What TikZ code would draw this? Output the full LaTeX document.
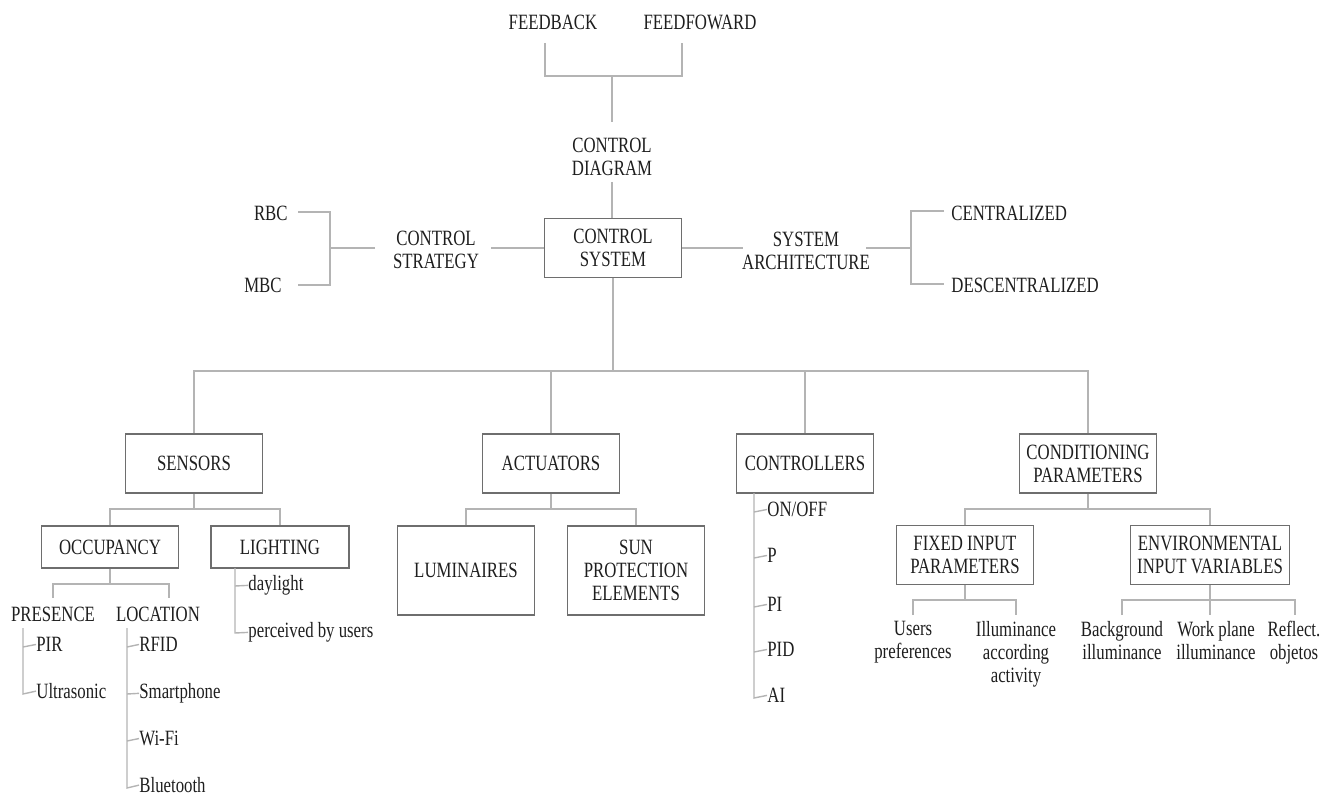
\documentclass[tikz,border=0pt]{standalone}
\usepackage{fontspec}
\setmainfont{Liberation Serif}[FakeStretch=0.77]
\definecolor{txt}{HTML}{1E1E1E}
\definecolor{lnc}{HTML}{B4B4B4}
\definecolor{boxc}{HTML}{6E6E6E}
\begin{document}
\begin{tikzpicture}[x=0.5pt,y=-0.5pt,
  every node/.style={font=\fontsize{10.9}{11.5}\selectfont, text=txt, inner sep=0pt},
  ln/.style={draw=lnc, line width=0.7pt},
  bx/.style={draw=boxc, line width=0.9pt, align=center, minimum width=68.5pt, minimum height=29.5pt},
  lbl/.style={align=center},
  item/.style={anchor=mid west}]
\useasboundingbox (0,0) rectangle (1322,796);

% top
\node[lbl] (fb) at (553,22) {FEEDBACK};
\node[lbl] (ff) at (700,22) {FEEDFOWARD};
\node[lbl] (diag) at (612,157) {CONTROL\\DIAGRAM};
\node[bx] (csys) at (613,248) {CONTROL\\SYSTEM};
\coordinate (fbl) at (545,43);
\coordinate (ffl) at (682,43);
\coordinate (fbj) at (612,76);
\coordinate (diagt) at (612,122);
\coordinate (diagb) at (612,182);
\draw[ln] (fbl) -- (545,76) -- (682,76) -- (ffl);
\draw[ln] (fbj) -- (diagt);
\draw[ln] (diagb) -- (diagb |- csys.north);

% left
\node[lbl] (strat) at (436,250) {CONTROL\\STRATEGY};
\node[anchor=east] (rbc) at (288,213) {RBC};
\node[anchor=east] (mbc) at (282,285) {MBC};
\draw[ln] (csys.west) -- (491,248);
\draw[ln] (375,248) -- (330,248);
\draw[ln] (298,212) -- (330,212) -- (330,285) -- (298,285);

% right
\node[lbl] (arch) at (806,251) {SYSTEM\\ARCHITECTURE};
\node[anchor=west] (cent) at (951,213) {CENTRALIZED};
\node[anchor=west] (desc) at (951,285) {DESCENTRALIZED};
\draw[ln] (csys.east) -- (743,248);
\draw[ln] (866,248) -- (911,248);
\draw[ln] (944,211) -- (911,211) -- (911,284) -- (944,284);

% level 1
\node[bx] (sens) at (194,463.5) {SENSORS};
\node[bx] (act) at (551,463.5) {ACTUATORS};
\node[bx] (ctrl) at (805,463.5) {CONTROLLERS};
\node[bx] (cond) at (1088,463.5) {CONDITIONING\\PARAMETERS};
\draw[ln] (csys.south) -- (613,371);
\draw[ln] (sens.north) -- (194,371) -- (1088,371) -- (cond.north);
\draw[ln] (551,371) -- (act.north);
\draw[ln] (805,371) -- (ctrl.north);

% sensors subtree
\node[bx, minimum height=21pt] (occ) at (110,547) {OCCUPANCY};
\node[bx, minimum height=21pt, minimum width=69pt] (light) at (280,547) {LIGHTING};
\draw[ln] (sens.south) -- (194,509);
\draw[ln] (occ.north) -- (110,509) -- (280,509) -- (light.north);

\node (pres) at (53,614) {PRESENCE};
\node (loc) at (158,614) {LOCATION};
\draw[ln] (occ.south) -- (110,584);
\draw[ln] (53,598) -- (53,584) -- (169,584) -- (169,598);

\node[item] (pir) at (36,647) {PIR};
\node[item] (ultra) at (36,694) {Ultrasonic};
\draw[ln] (23,628) -- (23,694) -- (ultra.west);
\draw[ln] (23,647) -- (pir.west);

\node[item] (rfid) at (139,647) {RFID};
\node[item] (smart) at (139,694) {Smartphone};
\node[item] (wifi) at (139,741) {Wi-Fi};
\node[item] (bt) at (139,788) {Bluetooth};
\draw[ln] (127,628) -- (127,788) -- (bt.west);
\draw[ln] (127,647) -- (rfid.west);
\draw[ln] (127,694) -- (smart.west);
\draw[ln] (127,741) -- (wifi.west);

\node[item] (day) at (248,586) {daylight};
\node[item] (perc) at (248,633) {perceived by users};
\draw[ln] (235,568) -- (235,633) -- (perc.west);
\draw[ln] (235,586) -- (day.west);

% actuators subtree
\node[bx, minimum height=44.5pt] (lum) at (466,570.5) {LUMINAIRES};
\node[bx, minimum height=44.5pt] (sun) at (636,570.5) {SUN\\PROTECTION\\ELEMENTS};
\draw[ln] (act.south) -- (551,509);
\draw[ln] (lum.north) -- (466,509) -- (636,509) -- (sun.north);

% controllers list
\node[item] (onoff) at (767,512) {ON/OFF};
\node[item] (p) at (767,558) {P};
\node[item] (pi) at (767,607) {PI};
\node[item] (pid) at (767,652) {PID};
\node[item] (ai) at (767,698) {AI};
\draw[ln] (754,493) -- (754,698) -- (ai.west);
\draw[ln] (754,512) -- (onoff.west);
\draw[ln] (754,558) -- (p.west);
\draw[ln] (754,607) -- (pi.west);
\draw[ln] (754,652) -- (pid.west);

% conditioning subtree
\node[bx] (fix) at (965,555) {FIXED INPUT\\PARAMETERS};
\node[bx, minimum width=79.5pt] (env) at (1210,555) {ENVIRONMENTAL\\INPUT VARIABLES};
\draw[ln] (cond.south) -- (1088,509);
\draw[ln] (fix.north) -- (965,509) -- (1210,509) -- (env.north);

\node[lbl, anchor=north] (users) at (913,621) {Users\\preferences};
\node[lbl, anchor=north] (illa) at (1016,621) {Illuminance\\according\\activity};
\draw[ln] (fix.south) -- (965,600);
\draw[ln] (913,615) -- (913,600) -- (1016,600) -- (1016,615);

\node[lbl, anchor=north] (bg) at (1122,621) {Background\\illuminance};
\node[lbl, anchor=north] (wp) at (1216,621) {Work plane\\illuminance};
\node[lbl, anchor=north] (refl) at (1294,621) {Reflect.\\objetos};
\draw[ln] (env.south) -- (1210,615);
\draw[ln] (1122,615) -- (1122,600) -- (1295,600) -- (1295,615);
\end{tikzpicture}
\end{document}
